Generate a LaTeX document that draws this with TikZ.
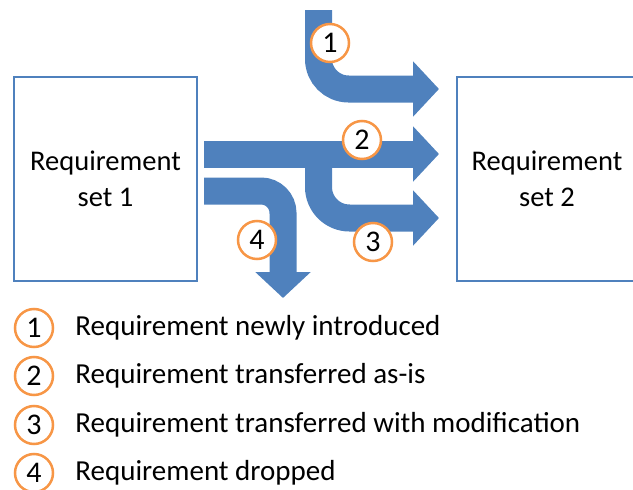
\documentclass[tikz,border=0pt]{standalone}
\usepackage{fontspec}
\setmainfont{Carlito}
\usetikzlibrary{arrows.meta,positioning}
\definecolor{flowblue}{HTML}{4F81BD}
\definecolor{tagorange}{HTML}{F79646}
\begin{document}
\begin{tikzpicture}[x=1pt,y=-1pt,
    setbox/.style={draw=flowblue,line width=2pt,minimum width=183pt,minimum height=204pt,align=center,font=\fontsize{28.5}{36}\selectfont},
    flow/.style={draw=flowblue,line width=27pt,-{Triangle[length=26pt,width=54pt]}},
    tag/.style={circle,draw=tagorange,line width=2.5pt,fill=white,minimum size=38pt,inner sep=0pt,font=\fontsize{30}{30}\selectfont},
    legend/.style={inner sep=0pt,font=\fontsize{29}{34}\selectfont}]
\useasboundingbox (0,0) rectangle (633,490);
% the two sets
\node[setbox] (set1) at (105.5,179) {Requirement\\set 1};
\node[setbox,minimum width=180pt] (set2) at (547,179) {Requirement\\set 2};
% arrow ends
\coordinate (newin) at (318.5,10);
\coordinate (newout) at (439,89);
\coordinate (keepin) at (204,154);
\coordinate (keepout) at (439,154);
\coordinate (modin) at (318.5,154);
\coordinate (modout) at (439,218);
\coordinate (dropin) at (204,191);
\coordinate (dropout) at (283,298);
\draw[flow,rounded corners=30pt] (newin) |- (newout);
\draw[flow] (keepin) -- (keepout);
\draw[flow,rounded corners=31pt] (modin) |- (modout);
\draw[flow,rounded corners=22pt] (dropin) -| (dropout);
% numbers on the arrows
\node[tag] (t1) at (330,43) {1};
\node[tag] (t2) at (362,140) {2};
\node[tag] (t3) at (373,242) {3};
\node[tag] (t4) at (257,240) {4};
% legend
\node[tag] (l1) at (34,328) {1};
\node[tag] (l2) at (34,376) {2};
\node[tag] (l3) at (34,425) {3};
\node[tag] (l4) at (34,473) {4};
\node[legend,right=21pt of l1] (d1) {Requirement newly introduced};
\node[legend,right=21pt of l2] (d2) {Requirement transferred as-is};
\node[legend,right=21pt of l3] (d3) {Requirement transferred with modification};
\node[legend,right=21pt of l4] (d4) {Requirement dropped};
\end{tikzpicture}
\end{document}
